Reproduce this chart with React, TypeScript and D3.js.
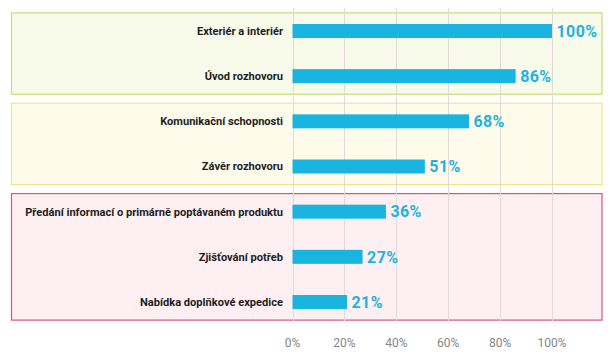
import { useEffect, useRef } from 'react';
import * as d3 from 'd3';

const categories = [
  'Exteriér a interiér',
  'Úvod rozhovoru',
  'Komunikační schopnosti',
  'Závěr rozhovoru',
  'Předání informací o primárně poptávaném produktu',
  'Zjišťování potřeb',
  'Nabídka doplňkové expedice',
];
const values = [100, 86, 68, 51, 36, 27, 21];
const ticks = [0, 20, 40, 60, 80, 100];

// category groups shown as coloured boxes (first index, last index)
const groupRanges: [number, number][] = [
  [0, 1],
  [2, 3],
  [4, 6],
];
const groupFills = ['#f8fbe9', '#fffbeb', '#fdeff2'];
const groupStrokes = ['#c9dd73', '#f1e487', '#d9557a'];

const W = 612;
const H = 362;

export default function App() {
  const svgRef = useRef<SVGSVGElement | null>(null);

  useEffect(() => {
    const svgEl = svgRef.current;
    if (!svgEl) return;
    const svg = d3.select(svgEl);
    svg.selectAll('*').remove();

    const x = d3.scaleLinear().domain([0, 100]).range([292.5, 552]);
    const y = d3.scaleBand<number>().domain(d3.range(categories.length)).range([8.4, 324.6]).paddingInner(0.69).paddingOuter(0.345);
    const step = y.step();
    const bandTop = (i: number) => (y(i) ?? 0) + y.bandwidth() / 2 - step / 2;
    const inset = 4.5;

    // group boxes
    svg
      .append('g')
      .selectAll('rect')
      .data(groupRanges)
      .join('rect')
      .attr('x', 11.5)
      .attr('width', 590.5)
      .attr('y', (d) => bandTop(d[0]) + inset)
      .attr('height', (d) => bandTop(d[1]) + step - bandTop(d[0]) - inset * 2)
      .attr('fill', (_, i) => groupFills[i])
      .attr('stroke', (_, i) => groupStrokes[i])
      .attr('stroke-width', 1.2);

    // gridlines
    svg
      .append('g')
      .selectAll('line')
      .data(ticks)
      .join('line')
      .attr('x1', (d) => Math.round(x(d)) + 0.5)
      .attr('x2', (d) => Math.round(x(d)) + 0.5)
      .attr('y1', 8)
      .attr('y2', 322)
      .attr('stroke', '#e2d9d9')
      .attr('stroke-width', 1);

    // bars
    svg
      .append('g')
      .selectAll('rect')
      .data(values)
      .join('rect')
      .attr('x', x(0))
      .attr('y', (_, i) => y(i) ?? 0)
      .attr('width', (d) => x(d) - x(0))
      .attr('height', y.bandwidth())
      .attr('fill', '#19b5e0');

    // value labels
    svg
      .append('g')
      .selectAll('text')
      .data(values)
      .join('text')
      .attr('x', (d) => x(d) + 4.5)
      .attr('y', (_, i) => (y(i) ?? 0) + y.bandwidth() / 2)
      .attr('dy', '0.36em')
      .attr('font-family', 'Roboto, sans-serif')
      .attr('font-weight', 700)
      .attr('font-size', 16)
      .attr('letter-spacing', 0.4)
      .attr('fill', '#1fb2dc')
      .text((d) => `${d}%`);

    // category labels
    svg
      .append('g')
      .selectAll('text')
      .data(categories)
      .join('text')
      .attr('x', 283)
      .attr('y', (_, i) => (y(i) ?? 0) + y.bandwidth() / 2)
      .attr('dy', '0.35em')
      .attr('text-anchor', 'end')
      .attr('font-family', 'Roboto, sans-serif')
      .attr('font-weight', 700)
      .attr('font-size', 11.1)
      .attr('fill', '#1e1e1e')
      .text((d) => d);

    // x tick labels
    svg
      .append('g')
      .selectAll('text')
      .data(ticks)
      .join('text')
      .attr('x', (d) => x(d))
      .attr('y', 343)
      .attr('dy', '0.35em')
      .attr('text-anchor', 'middle')
      .attr('font-family', 'Roboto, sans-serif')
      .attr('font-size', 12)
      .attr('fill', '#858585')
      .text((d) => `${d}%`);
  }, []);

  return (
    <div style={{ position: 'fixed', left: 0, top: 0, width: W, height: H, background: '#fff' }}>
      <svg ref={svgRef} width={W} height={H} role="img" aria-label="Hodnocení oblastí" />
    </div>
  );
}
